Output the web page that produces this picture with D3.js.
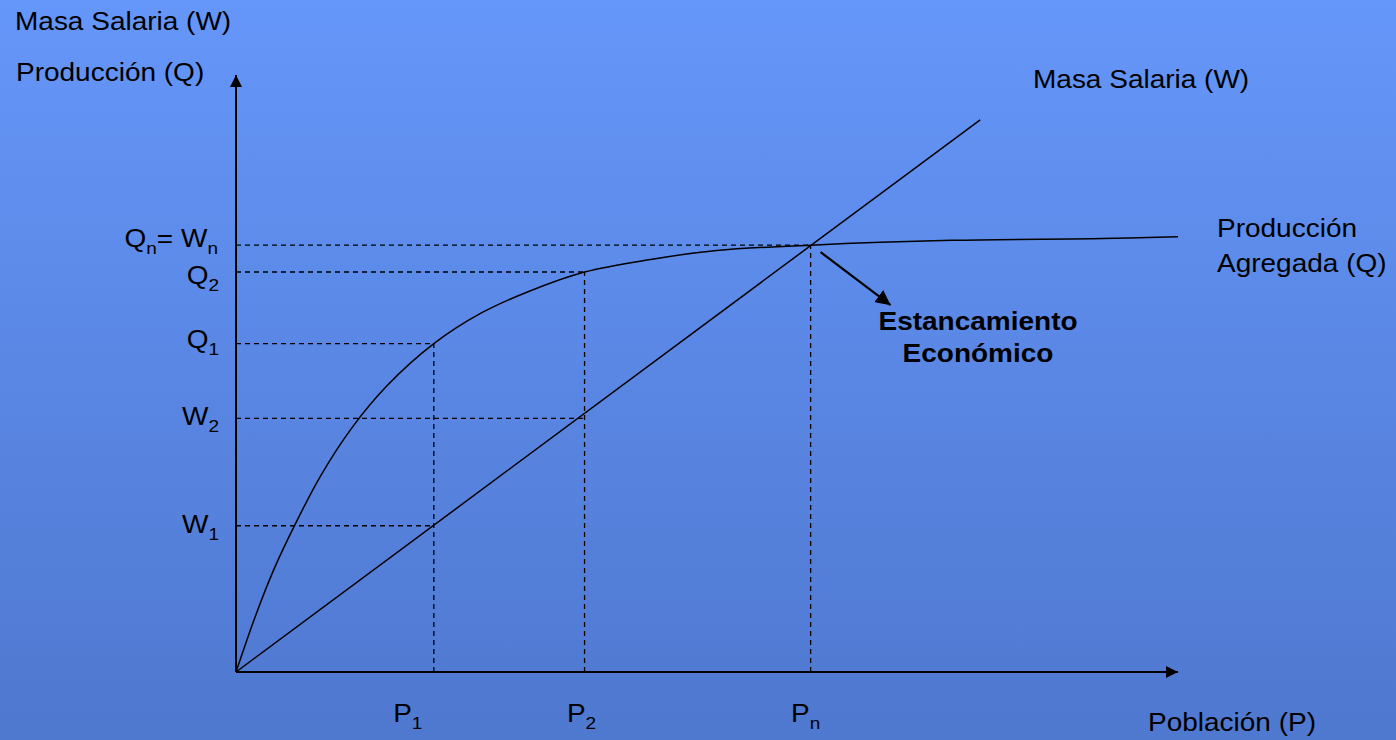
<!DOCTYPE html>
<html>
<head>
<meta charset="utf-8">
<script src="https://cdn.jsdelivr.net/npm/d3@7"></script>
<style>
  html, body { margin: 0; padding: 0; overflow: hidden; }
  text { font-family: "Liberation Sans", Arial, sans-serif; fill: #000; }
</style>
</head>
<body>
<script>
// values (abstract units, 0..100 on both axes)
var popLabels = ["1", "2", "n"];
var popValues = [21, 37, 61];

var qLabels = ["1", "2", "n"];
var qValues = [55, 67, 71.5];
var wLabels = ["1", "2"];
var wValues = [24.5, 42.5];

// wage mass: straight line from origin
var wageX = [0, 79];
var wageY = [0, 92.5];

// aggregate production curve
var prodX = [0, 2, 4, 6.3, 9, 12.3, 16, 21, 26, 31, 37, 44, 51, 61, 76, 92, 100];
var prodY = [0, 9.1, 17.1, 24.8, 32.9, 40.9, 47.9, 55, 60.1, 63.7, 67, 69.1, 70.6, 71.5, 72.3, 72.6, 72.9];

var width = 1396, height = 740;
var stretch = 1.12; // the slide is horizontally stretched

var x = d3.scaleLinear().domain([0, 100]).range([236, 1178]);
var y = d3.scaleLinear().domain([0, 100]).range([672, 75]);

var svg = d3.select("body").append("svg")
  .attr("width", width)
  .attr("height", height);

var defs = svg.append("defs");
var grad = defs.append("linearGradient")
  .attr("id", "bg").attr("x1", 0).attr("y1", 0).attr("x2", 0).attr("y2", 1);
grad.append("stop").attr("offset", "0%").attr("stop-color", "#6596f9");
grad.append("stop").attr("offset", "100%").attr("stop-color", "#4f78cf");

function marker(id, size) {
  defs.append("marker")
    .attr("id", id)
    .attr("viewBox", "0 0 10 10")
    .attr("refX", 10).attr("refY", 5)
    .attr("markerWidth", size).attr("markerHeight", size)
    .attr("markerUnits", "userSpaceOnUse")
    .attr("orient", "auto")
    .append("path")
    .attr("d", "M0,0 L10,5 L0,10 Z")
    .style("fill", "#000");
}
marker("head", 12);
marker("head2", 15);

svg.append("rect")
  .attr("width", width).attr("height", height)
  .style("fill", "url(#bg)");

// helper: stretched text
function label(px, py, str, opts) {
  opts = opts || {};
  var g = svg.append("g")
    .attr("transform", "translate(" + px + "," + py + ") scale(" + stretch + ",1)");
  return g.append("text")
    .style("font-size", (opts.size || 25) + "px")
    .style("font-weight", opts.bold ? "bold" : "normal")
    .style("text-anchor", opts.anchor || "start")
    .text(str);
}

function subLabel(px, py, parts, anchor) {
  var g = svg.append("g")
    .attr("transform", "translate(" + px + "," + py + ") scale(" + stretch + ",1)");
  var t = g.append("text")
    .style("font-size", "25px")
    .style("text-anchor", anchor || "start");
  parts.forEach(function(p) {
    if (p.sub) {
      t.append("tspan").attr("dy", 7).style("font-size", "17px").text(p.text);
    } else {
      t.append("tspan").attr("dy", p.back ? -7 : 0).text(p.text);
    }
  });
  return t;
}

// dashed guides
var dash = svg.append("g")
  .style("stroke", "#000")
  .style("stroke-width", 1.3)
  .style("stroke-dasharray", "5,4")
  .style("fill", "none");

popValues.forEach(function(p, i) {
  dash.append("line")
    .attr("x1", x(0)).attr("x2", x(p))
    .attr("y1", y(qValues[i])).attr("y2", y(qValues[i]));
  dash.append("line")
    .attr("x1", x(p)).attr("x2", x(p))
    .attr("y1", y(0)).attr("y2", y(qValues[i]));
});
wValues.forEach(function(w, i) {
  dash.append("line")
    .attr("x1", x(0)).attr("x2", x(popValues[i]))
    .attr("y1", y(w)).attr("y2", y(w));
});

// curves
var line = d3.line()
  .x(function(d) { return x(d[0]); })
  .y(function(d) { return y(d[1]); });

svg.append("path")
  .datum(wageX.map(function(v, i) { return [v, wageY[i]]; }))
  .attr("d", line)
  .style("fill", "none").style("stroke", "#000").style("stroke-width", 1.5);

svg.append("path")
  .datum(prodX.map(function(v, i) { return [v, prodY[i]]; }))
  .attr("d", line.curve(d3.curveCatmullRom))
  .style("fill", "none").style("stroke", "#000").style("stroke-width", 1.5);

// axes
svg.append("line")
  .attr("x1", x(0)).attr("y1", y(0)).attr("x2", x(0)).attr("y2", y(100))
  .style("stroke", "#000").style("stroke-width", 2)
  .attr("marker-end", "url(#head)");
svg.append("line")
  .attr("x1", x(0)).attr("y1", y(0)).attr("x2", x(100)).attr("y2", y(0))
  .style("stroke", "#000").style("stroke-width", 2)
  .attr("marker-end", "url(#head)");

// annotation arrow from the stagnation point
var px = x(popValues[2]), py = y(qValues[2]);
svg.append("line")
  .attr("x1", px + 10).attr("y1", py + 7)
  .attr("x2", px + 80).attr("y2", py + 60)
  .style("stroke", "#000").style("stroke-width", 2.2)
  .attr("marker-end", "url(#head2)");

// titles
label(15, 30, "Masa Salaria (W)");
label(16, 81, "Producción (Q)");
label(1033, 88, "Masa Salaria (W)");
label(1217, 237, "Producción");
label(1217, 272, "Agregada (Q)");
label(1148, 731, "Población (P)");
label(978, 330, "Estancamiento", { bold: true, anchor: "middle" });
label(978, 362, "Económico", { bold: true, anchor: "middle" });

// y tick labels
var labelRight = 219;
subLabel(labelRight - 1, y(qValues[2]) + 2, [
  { text: "Q" }, { text: qLabels[2], sub: true }, { text: "= W", back: true }, { text: qLabels[2], sub: true }
], "end");
subLabel(labelRight, y(qValues[1]) + 12, [{ text: "Q" }, { text: qLabels[1], sub: true }], "end");
subLabel(labelRight, y(qValues[0]) + 4, [{ text: "Q" }, { text: qLabels[0], sub: true }], "end");
wValues.forEach(function(v, i) {
  subLabel(labelRight, y(v) + 7, [{ text: "W" }, { text: wLabels[i], sub: true }], "end");
});

// x tick labels
var shift = [-26, -3, -5];
popValues.forEach(function(v, i) {
  subLabel(x(v) + shift[i], 722, [{ text: "P" }, { text: popLabels[i], sub: true }], "middle");
});
</script>
</body>
</html>
